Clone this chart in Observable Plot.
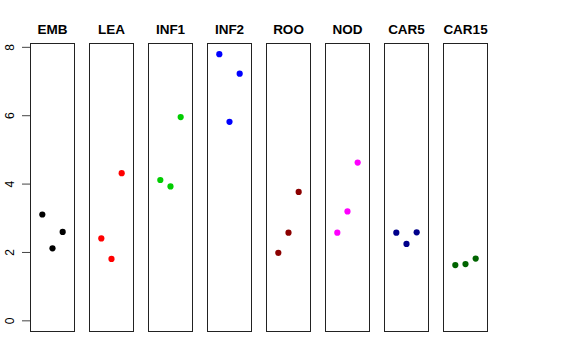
<!DOCTYPE html>
<html>
<head>
<meta charset="utf-8">
<script src="https://cdn.jsdelivr.net/npm/d3@7"></script>
<script src="https://cdn.jsdelivr.net/npm/@observablehq/plot@0.6"></script>
<style>
  html, body { margin: 0; padding: 0; background: white; }
</style>
</head>
<body>
<div id="chart"></div>
<script>
const groups = ["EMB", "LEA", "INF1", "INF2", "ROO", "NOD", "CAR5", "CAR15"];
const colors = ["black", "red", "#00CD00", "blue", "#8B0000", "magenta", "#00008B", "#006400"];
const rep1 = [3.11, 2.41, 4.12, 7.80, 1.99, 2.58, 2.58, 1.63];
const rep2 = [2.12, 1.81, 3.93, 5.82, 2.58, 3.20, 2.25, 1.66];
const rep3 = [2.60, 4.32, 5.96, 7.23, 3.77, 4.63, 2.59, 1.82];
const yTicks = [0, 2, 4, 6, 8];

const data = [];
groups.forEach((g, i) => {
  [rep1, rep2, rep3].forEach((rep, j) => {
    data.push({group: g, rep: j + 1, value: rep[i], color: colors[i]});
  });
});

const chart = Plot.plot({
  width: 576,
  height: 360,
  marginLeft: 29,
  marginRight: 88,
  marginTop: 43,
  marginBottom: 29,
  style: {fontFamily: "'Liberation Sans', Arial, sans-serif", background: "white"},
  fx: {domain: groups, paddingInner: 0.246, paddingOuter: 0},
  x: {domain: [-0.16, 4.16], axis: null},
  y: {domain: [-0.312, 8.112]},
  marks: [
    Plot.frame({stroke: "#222", strokeWidth: 1}),
    Plot.axisFx({anchor: "top", tickSize: 0, tickPadding: 10, label: null, fontSize: 13.5, fontWeight: "bold", fill: "black"}),
    Plot.axisY({ticks: yTicks, tickSize: 8, tickRotate: -90, textAnchor: "middle", tickPadding: 9, fontSize: 12, label: null, stroke: "#444", color: "black"}),
    Plot.dot(data, {fx: "group", x: "rep", y: "value", r: 3.1, fill: "color", stroke: null})
  ]
});
document.getElementById("chart").appendChild(chart);
</script>
</body>
</html>
